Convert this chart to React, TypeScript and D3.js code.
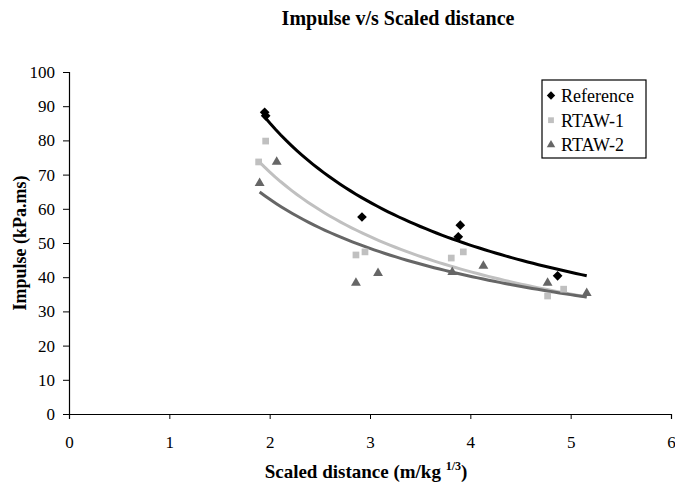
import React, { useEffect, useRef } from 'react';
import * as d3 from 'd3';

// values
const referenceX = [1.95, 1.96, 2.92, 3.9, 3.88, 4.87];
const referenceY = [88.2, 87.2, 57.6, 55.2, 51.8, 40.4];
const rtaw1X = [1.89, 1.96, 2.86, 2.95, 3.81, 3.93, 4.77, 4.93];
const rtaw1Y = [73.7, 79.8, 46.5, 47.4, 45.6, 47.4, 34.5, 36.5];
const rtaw2X = [1.9, 2.07, 2.86, 3.08, 3.82, 4.13, 4.77, 5.16];
const rtaw2Y = [67.5, 73.7, 38.3, 41.2, 41.5, 43.3, 38.3, 35.3];
const seriesNames = ['Reference', 'RTAW-1', 'RTAW-2'];
const xTicks = [0, 1, 2, 3, 4, 5, 6];
const yTicks = [0, 10, 20, 30, 40, 50, 60, 70, 80, 90, 100];

const FONT = '"Liberation Serif", "Times New Roman", serif';

type Pt = { x: number; y: number };

// least squares fit of y = a * x^b (like a spreadsheet power trendline)
const powerFit = (pts: Pt[]) => {
  const lx = pts.map(p => Math.log(p.x));
  const ly = pts.map(p => Math.log(p.y));
  const mx = d3.mean(lx) as number;
  const my = d3.mean(ly) as number;
  const b = d3.sum(lx, (v, i) => (v - mx) * (ly[i] - my)) / d3.sum(lx, v => (v - mx) ** 2);
  const a = Math.exp(my - b * mx);
  return (x: number) => a * Math.pow(x, b);
};

const App = () => {
  const ref = useRef<SVGSVGElement>(null);

  useEffect(() => {
    const svg = d3.select(ref.current);
    svg.selectAll('*').remove();

    const x = d3.scaleLinear().domain([0, 6]).range([69, 671]);
    const y = d3.scaleLinear().domain([0, 100]).range([414, 72]);

    const series = [
      { name: seriesNames[0], xs: referenceX, ys: referenceY, color: '#000000', shape: d3.symbolDiamond2, size: 60 },
      { name: seriesNames[1], xs: rtaw1X, ys: rtaw1Y, color: '#c0c0c0', shape: d3.symbolSquare, size: 45 },
      { name: seriesNames[2], xs: rtaw2X, ys: rtaw2Y, color: '#666666', shape: d3.symbolTriangle, size: 42 },
    ].map(s => ({ ...s, pts: s.xs.map((v, i) => ({ x: v, y: s.ys[i] })) }));

    const maxX = d3.max(series.flatMap(s => s.xs)) as number;

    // axes
    const xAxis = svg.append('g')
      .attr('transform', `translate(0,${y(0)})`)
      .call(d3.axisBottom(x).tickValues(xTicks).tickSize(5).tickPadding(17).tickFormat(d3.format('d')));
    const yAxis = svg.append('g')
      .attr('transform', `translate(${x(0)},0)`)
      .call(d3.axisLeft(y).tickValues(yTicks).tickSize(6).tickPadding(8).tickFormat(d3.format('d')));
    [xAxis, yAxis].forEach(g => {
      g.select('.domain').attr('stroke', '#000').attr('stroke-width', 1.2);
      g.selectAll('.tick line').attr('stroke', '#000');
      g.selectAll('.tick text')
        .attr('fill', '#000')
        .style('font-family', FONT)
        .style('font-size', '17px');
    });

    // trend lines
    const line = d3.line<Pt>().x(d => x(d.x)).y(d => y(d.y));
    series.forEach(s => {
      const f = powerFit(s.pts);
      const x0 = d3.min(s.xs) as number;
      const curve = d3.range(0, 61).map(i => {
        const xv = x0 + (maxX - x0) * i / 60;
        return { x: xv, y: f(xv) };
      });
      svg.append('path')
        .datum(curve)
        .attr('d', line)
        .attr('fill', 'none')
        .attr('stroke', s.color)
        .attr('stroke-width', 3);
    });

    // markers
    series.forEach(s => {
      svg.append('g')
        .selectAll('path')
        .data(s.pts)
        .enter()
        .append('path')
        .attr('d', d3.symbol().type(s.shape).size(s.size))
        .attr('transform', d => `translate(${x(d.x)},${y(d.y)})`)
        .attr('fill', s.color);
    });

    // legend
    const legend = svg.append('g').attr('transform', 'translate(542,80)');
    legend.append('rect')
      .attr('width', 104)
      .attr('height', 78)
      .attr('fill', '#fff')
      .attr('stroke', '#000')
      .attr('stroke-width', 1.2);
    series.forEach((s, i) => {
      const row = legend.append('g').attr('transform', `translate(0,${15.5 + i * 24.7})`);
      row.append('path')
        .attr('d', d3.symbol().type(s.shape).size(s.size * 0.75))
        .attr('transform', 'translate(9,0)')
        .attr('fill', s.color);
      row.append('text')
        .attr('x', 19)
        .attr('y', 0)
        .attr('dy', '0.35em')
        .style('font-family', FONT)
        .style('font-size', '18px')
        .text(s.name);
    });

    // titles
    svg.append('text')
      .attr('x', 398)
      .attr('y', 25)
      .attr('text-anchor', 'middle')
      .style('font-family', FONT)
      .style('font-size', '20px')
      .style('font-weight', 'bold')
      .text('Impulse v/s Scaled distance');

    const xTitle = svg.append('text')
      .attr('x', 366)
      .attr('y', 478)
      .attr('text-anchor', 'middle')
      .style('font-family', FONT)
      .style('font-size', '19px')
      .style('font-weight', 'bold');
    xTitle.append('tspan').text('Scaled distance (m/kg ');
    xTitle.append('tspan').attr('dy', -8).style('font-size', '12px').text('1/3');
    xTitle.append('tspan').attr('dy', 8).text(')');

    svg.append('text')
      .attr('transform', `translate(26,${(y(0) + y(100)) / 2}) rotate(-90)`)
      .attr('text-anchor', 'middle')
      .style('font-family', FONT)
      .style('font-size', '18px')
      .style('font-weight', 'bold')
      .text('Impulse (kPa.ms)');
  }, []);

  return (
    <svg
      ref={ref}
      width={675}
      height={487}
      style={{ position: 'absolute', left: 0, top: 0, background: '#fff' }}
    />
  );
};

export default App;
